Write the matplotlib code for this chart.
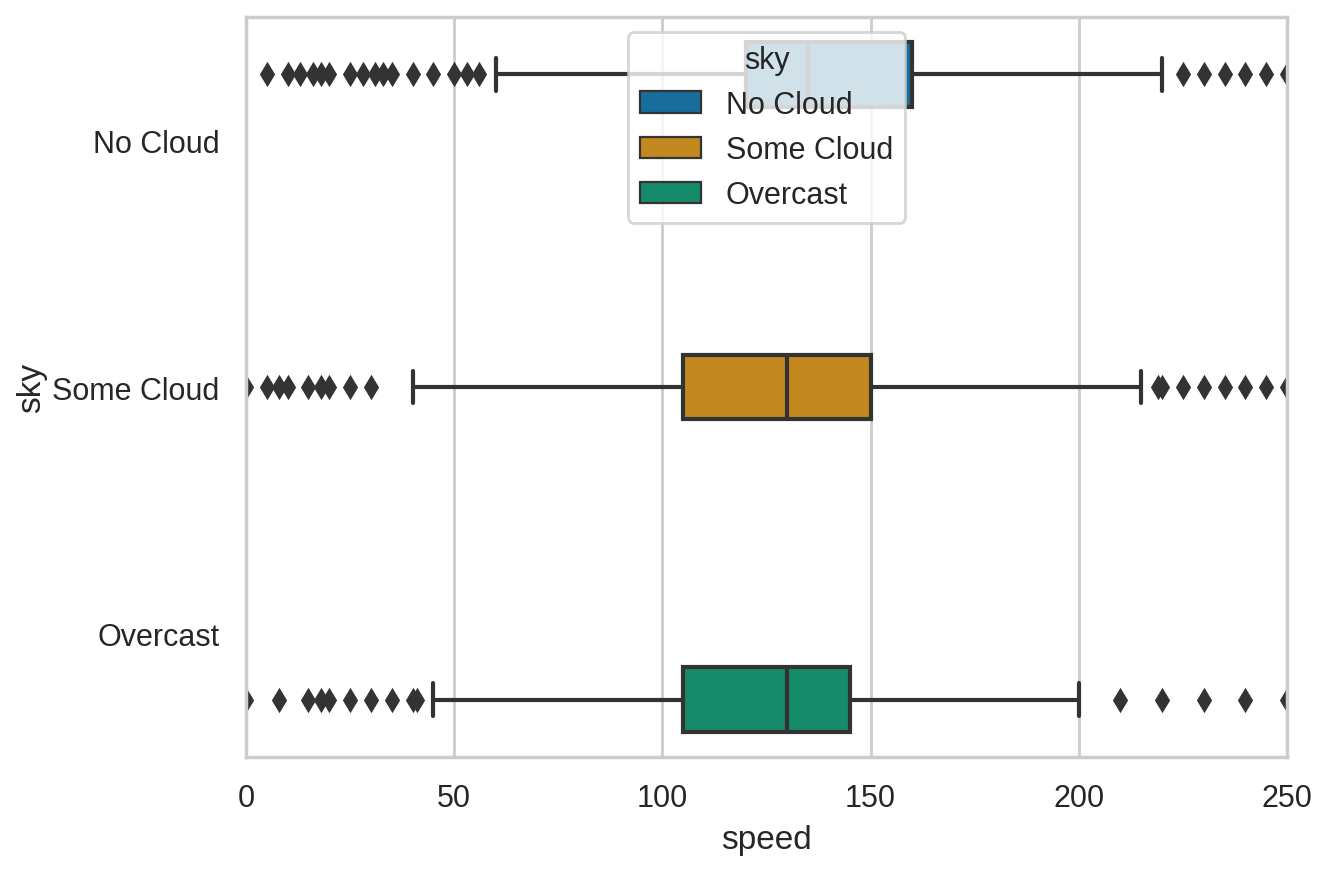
import matplotlib
matplotlib.use("Agg")
import matplotlib.pyplot as plt
import seaborn as sns
from matplotlib.patches import Patch

sns.set_theme(style="whitegrid")
plt.rcParams['font.family'] = ['Liberation Sans', 'DejaVu Sans']

categories = ["No Cloud", "Some Cloud", "Overcast"]
q1 = [120, 105, 105]
med = [135, 130, 130]
q3 = [160, 150, 145]
wlo = [60, 40, 45]
whi = [220, 215, 200]
fliers = [
    [5, 10, 13, 16, 18, 20, 25, 28, 31, 33, 35, 40, 45, 50, 53, 56, 225, 230, 235, 240, 245, 250],
    [0, 5, 8, 10, 15, 18, 20, 25, 30, 219, 220, 225, 230, 235, 240, 245, 250],
    [0, 8, 15, 18, 20, 25, 30, 35, 40, 41, 210, 220, 230, 240, 250],
]
base = sns.color_palette("colorblind", 3)
colors = [sns.desaturate(c, 0.75) for c in base]
offsets = [-0.267, 0.0, 0.267]

fig = plt.figure(figsize=(6.655, 4.35), dpi=200)
ax = fig.add_axes([246/1331, 1-758/870, (1287-246)/1331, (758-18)/870])
lc = "#333333"
for i, c in enumerate(categories):
    st = [dict(med=med[i], q1=q1[i], q3=q3[i], whislo=wlo[i], whishi=whi[i], fliers=fliers[i])]
    ax.bxp(st, positions=[i + offsets[i]], widths=0.26, vert=False, patch_artist=True,
           boxprops=dict(facecolor=colors[i], edgecolor=lc, linewidth=1.5),
           medianprops=dict(color=lc, linewidth=1.5),
           whiskerprops=dict(color=lc, linewidth=1.5),
           capprops=dict(color=lc, linewidth=1.5),
           flierprops=dict(marker='d', markerfacecolor=lc, markeredgecolor=lc, markersize=5),
           zorder=2)
ax.set_yticks(range(3))
ax.set_yticklabels(categories)
ax.set_ylim(2.5, -0.5)
ax.set_xlim(0, 250)
ax.set_xticks([0, 50, 100, 150, 200, 250])
ax.grid(axis='y', visible=False)
ax.set_xlabel("speed")
ax.set_ylabel("sky", labelpad=2)
handles = [Patch(facecolor=colors[i], edgecolor=lc, linewidth=0.8, label=c) for i, c in enumerate(categories)]
ax.legend(handles=handles, title="sky", loc="upper center", fontsize=11, title_fontsize=11)
fig.savefig("out.png", dpi=200)
